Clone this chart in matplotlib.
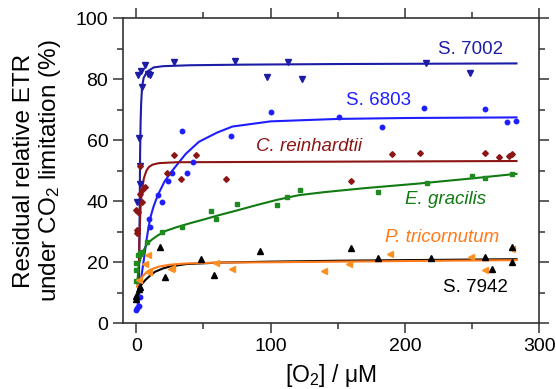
import matplotlib
matplotlib.use('Agg')
import matplotlib.pyplot as plt

plt.rcParams['font.family'] = ['Liberation Sans', 'DejaVu Sans']
plt.rcParams['mathtext.fontset'] = 'custom'
plt.rcParams['mathtext.rm'] = 'Liberation Sans'
plt.rcParams['mathtext.it'] = 'Liberation Sans:italic'

# measured points (O2 in uM, residual ETR in %)
s7002_x = [0.6, 2.0, 2.4, 3.1, 4.3, 1.3, 3.6, 6.1, 8.8, 10.0, 28.0, 73.3, 97.6, 113.0, 123.7, 215.3, 248.1]
s7002_y = [39.9, 60.8, 51.6, 45.5, 77.6, 81.4, 82.8, 84.7, 81.6, 81.3, 85.8, 86.1, 80.7, 85.6, 80.0, 85.2, 82.0]

s6803_x = [0.0, 0.5, 1.9, 2.5, 9.3, 10.5, 16.0, 18.8, 23.7, 26.7, 34.2, 37.9, 42.2, 70.5, 100.6,
           151.1, 183.0, 214.0, 259.9, 276.0, 283.0]
s6803_y = [4.4, 5.0, 5.6, 8.7, 34.1, 31.7, 42.0, 39.9, 46.7, 49.4, 63.2, 49.2, 53.0, 61.5, 69.3,
           67.5, 64.5, 70.5, 70.2, 65.9, 66.4]

creinh_x = [0.0, 0.3, 0.5, 1.0, 2.4, 3.1, 3.9, 4.3, 6.1, 23.0, 28.0, 33.0, 44.2, 66.7,
            159.8, 190.0, 211.3, 259.8, 270.0, 277.5, 280.0]
creinh_y = [37.1, 30.6, 29.5, 36.6, 51.6, 42.4, 43.7, 39.9, 44.8, 49.2, 55.2, 47.3, 55.2, 47.2,
            46.7, 55.4, 55.9, 55.7, 54.4, 54.9, 55.4]

egrac_x = [-0.3, -0.3, 0.0, 1.1, 2.4, 3.1, 4.3, 8.1, 19.3, 34.2, 55.8, 59.1, 74.8, 105.1, 112.5, 121.8,
           179.7, 216.3, 249.9, 259.8, 280.0]
egrac_y = [14.0, 17.5, 19.7, 22.4, 22.7, 23.1, 23.5, 26.8, 29.8, 31.7, 36.7, 34.1, 39.0, 38.7, 41.5, 43.6,
           43.1, 45.9, 48.3, 47.7, 49.0]

ptric_x = [1.9, 6.8, 8.8, 8.8, 9.3, 25.5, 26.7, 59.6, 71.0, 139.9, 158.6, 189.2, 249.4, 259.8, 280.0]
ptric_y = [14.2, 19.5, 22.4, 16.7, 16.9, 17.7, 18.2, 19.9, 17.7, 17.2, 19.3, 22.6, 21.8, 17.5, 24.3]

s7942_x = [-0.6, 0.0, 1.9, 3.1, 18.0, 21.0, 47.9, 57.7, 91.9, 159.8, 179.7, 219.5, 259.8, 265.0, 280.0, 280.0]
s7942_y = [8.9, 8.0, 11.1, 12.0, 24.9, 15.3, 21.0, 15.7, 23.8, 24.6, 21.3, 21.3, 21.6, 17.8, 25.1, 20.2]

# fitted curves
s7002_fx = [1.5, 2.0, 2.4, 2.8, 3.2, 3.6, 4.3, 5.5, 8.0, 13.0, 20.0, 40.0, 80.0, 150.0, 283.0]
s7002_fy = [5.0, 15.0, 32.0, 55.0, 66.0, 72.0, 77.6, 80.5, 82.5, 83.9, 84.3, 84.6, 84.8, 85.0, 85.2]

s6803_fx = [0.5, 2.0, 4.0, 5.6, 7.5, 9.3, 11.0, 13.0, 16.0, 21.0, 26.7, 36.7, 46.6, 60.0, 71.5,
            100.0, 150.0, 200.0, 283.0]
s6803_fy = [4.5, 9.0, 16.0, 20.8, 27.0, 32.0, 35.5, 38.5, 42.0, 46.5, 50.0, 55.5, 59.5, 62.5, 64.5,
            66.2, 67.0, 67.3, 67.5]

creinh_fx = [1.2, 1.8, 2.3, 2.8, 3.3, 4.2, 5.6, 7.5, 9.3, 12.0, 16.8, 30.0, 283.0]
creinh_fy = [8.0, 17.0, 27.0, 34.0, 39.0, 43.5, 47.5, 50.0, 51.2, 52.0, 52.5, 52.8, 53.2]

egrac_fx = [0.6, 2.0, 4.3, 8.0, 11.8, 16.0, 22.0, 30.0, 40.0, 50.0, 62.0, 75.0, 90.0, 105.0, 121.0,
            140.0, 170.0, 210.0, 250.0, 283.0]
egrac_fy = [13.0, 19.5, 23.0, 26.0, 27.5, 28.8, 30.3, 31.5, 32.8, 34.0, 35.5, 37.0, 38.8, 40.5, 42.0,
            43.0, 44.3, 45.8, 47.5, 49.0]

ptric_fx = [0.5, 2.0, 4.0, 7.0, 10.0, 17.0, 25.0, 37.0, 62.0, 100.0, 150.0, 200.0, 283.0]
ptric_fy = [12.0, 13.5, 15.0, 16.5, 17.5, 18.6, 19.2, 19.6, 19.9, 20.0, 20.2, 20.4, 20.7]

s7942_fx = [0.0, 2.0, 4.0, 7.0, 10.0, 14.0, 20.0, 25.0, 37.0, 62.0, 100.0, 150.0, 200.0, 283.0]
s7942_fy = [7.5, 10.9, 12.8, 14.3, 15.5, 16.9, 18.0, 18.6, 19.4, 19.9, 20.2, 20.5, 20.7, 21.0]

fig = plt.figure(figsize=(5.56, 3.89), dpi=100)
ax = fig.add_axes([0.221, 0.169, 0.749, 0.784])

c7002 = '#1c1ca6'
c6803 = '#1e1eff'
cchl = '#8c1515'
ceug = '#1f8a1f'
cpt = '#ff7a1a'
c7942 = 'black'

# curves
ax.plot(s7002_fx, s7002_fy, color=c7002, lw=1.5)
ax.plot(s6803_fx, s6803_fy, color=c6803, lw=1.5)
ax.plot(creinh_fx, creinh_fy, color=cchl, lw=1.5)
ax.plot(egrac_fx, egrac_fy, color='#127a12', lw=1.5)
ax.plot(s7942_fx, s7942_fy, color=c7942, lw=1.5)
ax.plot(ptric_fx, ptric_fy, color=cpt, lw=1.5)

# points
ax.plot(s7002_x, s7002_y, 'v', color=c7002, ms=3.8, ls='none')
ax.plot(s6803_x, s6803_y, 'o', color=c6803, ms=3.2, ls='none')
ax.plot(creinh_x, creinh_y, 'D', color=cchl, ms=2.9, ls='none')
ax.plot(egrac_x, egrac_y, 's', color=ceug, ms=3.0, ls='none')
ax.plot(ptric_x, ptric_y, '<', color='#ff9020', ms=3.8, ls='none')
ax.plot(s7942_x, s7942_y, '^', color=c7942, ms=3.8, ls='none')

# labels
fs = 13.5
ax.text(249, 89.8, 'S. 7002', color=c7002, fontsize=fs, ha='center', va='center')
ax.text(180, 72.9, 'S. 6803', color=c6803, fontsize=fs, ha='center', va='center')
ax.text(128.5, 57.9, 'C. reinhardtii', color=cchl, fontsize=fs, ha='center', va='center', style='italic')
ax.text(230, 40.7, 'E. gracilis', color='#127a12', fontsize=fs, ha='center', va='center', style='italic')
ax.text(227.6, 28.2, 'P. tricornutum', color=cpt, fontsize=fs, ha='center', va='center', style='italic')
ax.text(252.5, 11.8, 'S. 7942', color=c7942, fontsize=fs, ha='center', va='center')

ax.set_xlim(-10, 300)
ax.set_ylim(0, 100)
ax.set_xticks([0, 100, 200, 300])
ax.set_xticks([50, 150, 250], minor=True)
ax.set_yticks([0, 20, 40, 60, 80, 100])
ax.set_yticks([10, 30, 50, 70, 90], minor=True)
ax.tick_params(which='both', direction='out', top=True, right=True, labelsize=14, width=1.1, color='#333333')
ax.tick_params(which='major', length=7)
ax.tick_params(which='minor', length=4.5)
for s in ax.spines.values():
    s.set_linewidth(1.2)
    s.set_color('#333333')

ax.set_xlabel('[O$_2$] / μM', fontsize=16.5, labelpad=5)
ax.set_ylabel('Residual relative ETR\nunder CO$_2$ limitation (%)', fontsize=17.5, labelpad=9, linespacing=1.1)

fig.savefig('out.png', dpi=100)
